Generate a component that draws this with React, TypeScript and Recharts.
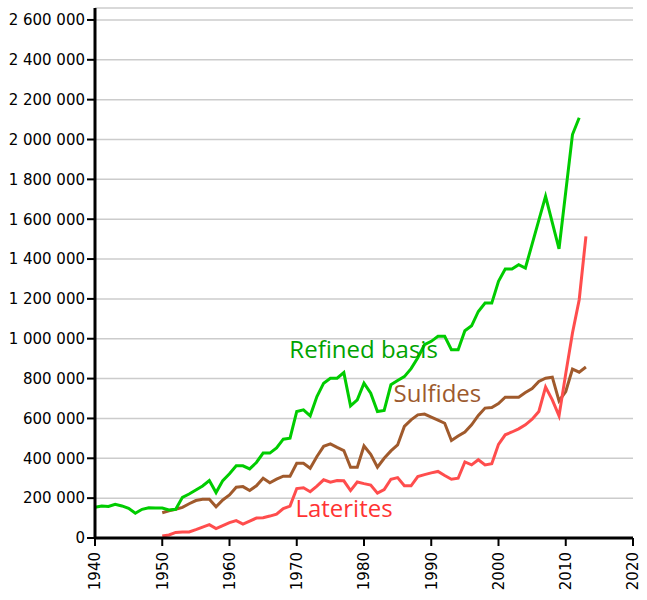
import {
  LineChart,
  Line,
  XAxis,
  YAxis,
  CartesianGrid,
  ReferenceDot,
} from "recharts";

// world nickel production, tonnes
const years = [
  1940, 1941, 1942, 1943, 1944, 1945, 1946, 1947, 1948, 1949,
  1950, 1951, 1952, 1953, 1954, 1955, 1956, 1957, 1958, 1959,
  1960, 1961, 1962, 1963, 1964, 1965, 1966, 1967, 1968, 1969,
  1970, 1971, 1972, 1973, 1974, 1975, 1976, 1977, 1978, 1979,
  1980, 1981, 1982, 1983, 1984, 1985, 1986, 1987, 1988, 1989,
  1990, 1991, 1992, 1993, 1994, 1995, 1996, 1997, 1998, 1999,
  2000, 2001, 2002, 2003, 2004, 2005, 2006, 2007, 2008, 2009,
  2010, 2011, 2012, 2013,
];

const refinedBasis = [
  154000, 161000, 158000, 169000, 161000, 149000, 124000, 144000, 152000, 151000,
  150000, 141000, 144000, 204000, 221000, 241000, 261000, 288000, 228000, 288000,
  322000, 362000, 362000, 347000, 379000, 426000, 426000, 452000, 496000, 501000,
  635000, 643000, 613000, 710000, 777000, 802000, 802000, 830000, 663000, 693000,
  777000, 727000, 635000, 640000, 769000, 790000, 810000, 850000, 905000, 970000,
  987000, 1012000, 1012000, 945000, 945000, 1040000, 1065000, 1137000, 1179000, 1179000,
  1288000, 1350000, 1350000, 1372000, 1355000, 1475000, 1595000, 1715000, 1583000, 1451000,
  1738000, 2025000, 2109000, null,
];

const sulfides = [
  null, null, null, null, null, null, null, null, null, null,
  127000, 137000, 144000, 154000, 172000, 188000, 194000, 194000, 157000, 191000,
  216000, 255000, 258000, 238000, 262000, 300000, 277000, 295000, 310000, 310000,
  375000, 375000, 350000, 409000, 460000, 472000, 455000, 439000, 355000, 355000,
  462000, 420000, 355000, 400000, 437000, 467000, 560000, 593000, 618000, 622000,
  607000, 592000, 576000, 489000, 512000, 532000, 568000, 615000, 652000, 655000,
  675000, 707000, 707000, 707000, 730000, 750000, 786000, 802000, 807000, 688000,
  735000, 848000, 832000, 858000,
];

const laterites = [
  null, null, null, null, null, null, null, null, null, null,
  10000, 15000, 28000, 30000, 30000, 42000, 55000, 67000, 47000, 62000,
  77000, 87000, 70000, 85000, 100000, 102000, 110000, 120000, 148000, 160000,
  248000, 252000, 232000, 260000, 292000, 280000, 288000, 287000, 238000, 281000,
  273000, 266000, 225000, 243000, 295000, 303000, 262000, 262000, 308000, 318000,
  327000, 334000, 314000, 295000, 300000, 382000, 367000, 393000, 367000, 373000,
  470000, 518000, 532000, 548000, 568000, 596000, 635000, 757000, 693000, 613000,
  825000, 1029000, 1196000, 1514000,
];

const xTicks = [1940, 1950, 1960, 1970, 1980, 1990, 2000, 2010, 2020];
const yTicks = [
  0, 200000, 400000, 600000, 800000, 1000000, 1200000, 1400000,
  1600000, 1800000, 2000000, 2200000, 2400000, 2600000,
];

const seriesNames = ["Refined basis", "Sulfides", "Laterites"];

const rows = years.map((year, i) => ({
  year,
  refined: refinedBasis[i],
  sulfides: sulfides[i],
  laterites: laterites[i],
}));

// where each series name sits, in data units (left edge / baseline)
const labels = [
  { text: seriesNames[0], year: 1968.9, value: 903000, color: "#00a300" },
  { text: seriesNames[1], year: 1984.4, value: 682000, color: "#9c5a2e" },
  { text: seriesNames[2], year: 1969.8, value: 105000, color: "#ff3333" },
];

const spaced = (v: number) => String(v).replace(/\B(?=(\d{3})+(?!\d))/g, " ");

function YearTick({ x, y, payload }: any) {
  return (
    <text
      x={x}
      y={y}
      transform={`rotate(-90, ${x}, ${y})`}
      textAnchor="end"
      dy="0.35em"
      fontSize={15}
      fontFamily="DejaVu Sans"
      fill="#000"
    >
      {payload.value}
    </text>
  );
}

export default function App() {
  return (
    <div style={{ position: "absolute", left: 0, top: 0 }}>
      <LineChart
        width={647}
        height={600}
        data={rows}
        margin={{ top: 8, right: 14, left: 0, bottom: 0 }}
      >
        <CartesianGrid vertical={false} stroke="#cccccc" strokeWidth={1.5} />
        <XAxis
          dataKey="year"
          type="number"
          domain={[1940, 2020]}
          ticks={xTicks}
          height={62}
          axisLine={{ stroke: "#000", strokeWidth: 3 }}
          tickLine={{ stroke: "#000", strokeWidth: 2 }}
          tickSize={8}
          tickMargin={6}
          tick={<YearTick />}
          interval={0}
        />
        <YAxis
          type="number"
          domain={[0, 2660000]}
          ticks={yTicks}
          width={95}
          axisLine={{ stroke: "#000", strokeWidth: 3 }}
          tickLine={{ stroke: "#000", strokeWidth: 2 }}
          tickSize={8}
          tickFormatter={spaced}
          tick={{ fontSize: 15, fontFamily: "DejaVu Sans", fill: "#000" }}
          interval={0}
        />
        <Line
          dataKey="sulfides"
          stroke="#a05a2c"
          strokeWidth={3}
          dot={false}
          activeDot={false}
          isAnimationActive={false}
        />
        <Line
          dataKey="refined"
          stroke="#00cc00"
          strokeWidth={3}
          dot={false}
          activeDot={false}
          isAnimationActive={false}
        />
        <Line
          dataKey="laterites"
          stroke="#ff4d4d"
          strokeWidth={3}
          dot={false}
          activeDot={false}
          isAnimationActive={false}
        />
        {labels.map((l) => (
          <ReferenceDot
            key={l.text}
            x={l.year}
            y={l.value}
            r={0}
            fill="none"
            stroke="none"
            label={(props: any) => (
              <text
                x={props.viewBox.x}
                y={props.viewBox.y}
                fontSize={24}
                fontFamily="Open Sans"
                fill={l.color}
              >
                {l.text}
              </text>
            )}
          />
        ))}
      </LineChart>
    </div>
  );
}
